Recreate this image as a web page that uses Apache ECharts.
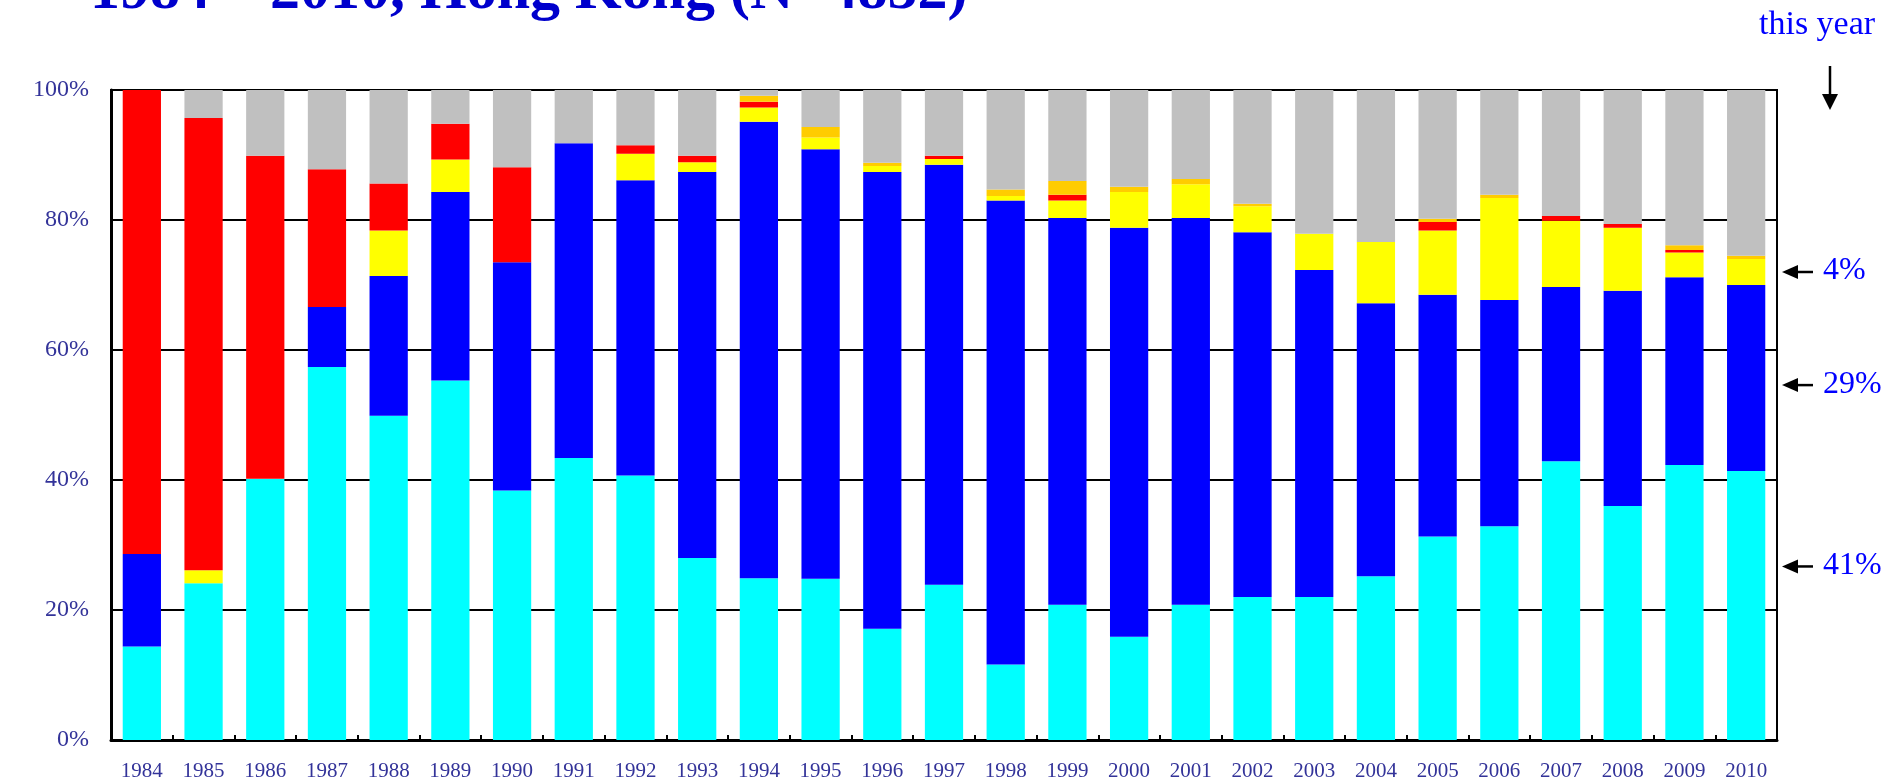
<!DOCTYPE html>
<html>
<head>
<meta charset="utf-8">
<script src="https://cdn.jsdelivr.net/npm/echarts@6/dist/echarts.min.js"></script>
<style>
  html, body { margin: 0; padding: 0; background: #fff; }
  #chart { width: 1889px; height: 782px; }
</style>
</head>
<body>
<div id="chart"></div>
<script>
// share of reported cases per year, percent (bottom to top of each bar)
const years = ['1984', '1985', '1986', '1987', '1988', '1989', '1990', '1991', '1992', '1993',
  '1994', '1995', '1996', '1997', '1998', '1999', '2000', '2001', '2002', '2003',
  '2004', '2005', '2006', '2007', '2008', '2009', '2010'];
const heterosexual = [14.4, 24.1, 40.2, 57.4, 49.9, 55.3, 38.4, 43.4, 40.7, 28.0,
  24.9, 24.8, 17.1, 23.9, 11.6, 20.8, 15.9, 20.8, 22.0, 22.0,
  25.2, 31.3, 32.9, 42.9, 36.0, 42.3, 41.4];
const homoBisexual = [14.2, 0, 0, 9.2, 21.5, 29.0, 35.1, 48.4, 45.4, 59.4,
  70.2, 66.1, 70.3, 64.6, 71.4, 59.5, 62.9, 59.5, 56.1, 50.3,
  42.0, 37.2, 34.8, 26.8, 33.1, 28.9, 28.6];
const drugUse = [0, 2.0, 0, 0, 7.0, 5.0, 0, 0, 4.1, 1.5,
  2.2, 1.8, 0.9, 0.9, 0.7, 2.7, 5.5, 5.2, 4.0, 5.6,
  9.4, 9.9, 15.7, 10.2, 9.7, 3.8, 4.0];
const bloodProducts = [71.4, 69.6, 49.7, 21.2, 7.2, 5.5, 14.6, 0, 1.3, 1.0,
  0.9, 0, 0, 0.5, 0, 0.9, 0, 0, 0, 0,
  0, 1.3, 0, 0.7, 0.6, 0.4, 0];
const perinatal = [0, 0, 0, 0, 0, 0, 0, 0, 0, 0,
  0.9, 1.6, 0.5, 0, 1.0, 2.1, 0.8, 0.8, 0.4, 0,
  0, 0.5, 0.5, 0, 0, 0.7, 0.5];
const undetermined = [0, 4.3, 10.1, 12.2, 14.4, 5.2, 11.9, 8.2, 8.5, 10.1,
  0.9, 5.7, 11.2, 10.1, 15.3, 14.0, 14.9, 13.7, 17.5, 22.1,
  23.4, 19.8, 16.1, 19.4, 20.6, 23.9, 25.5];

// callouts for the last year
const calloutLabels = ['4%', '29%', '41%'];
const calloutValues = [72.0, 54.6, 26.7];

const serif = '"Liberation Serif", "Times New Roman", serif';

const chart = echarts.init(document.getElementById('chart'), null, {renderer: 'canvas'});

function bar(name, data, color) {
  return {
    name: name,
    type: 'bar',
    stack: 'all',
    data: data,
    barWidth: '62%',
    itemStyle: {color: color},
    emphasis: {disabled: true}
  };
}

const option = {
  animation: false,
  backgroundColor: '#fff',
  grid: {
    left: 111, right: 112, top: 90, bottom: 41,
    show: true, borderColor: '#000', borderWidth: 2
  },
  xAxis: {
    type: 'category',
    data: years,
    axisLine: {lineStyle: {color: '#000', width: 3}},
    axisTick: {show: true, inside: true, length: 5, lineStyle: {color: '#000', width: 2}},
    axisLabel: {
      interval: 0, margin: 21, color: '#333399',
      fontFamily: serif, fontSize: 21
    }
  },
  yAxis: {
    type: 'value',
    min: 0, max: 100, interval: 20,
    axisLine: {show: true, lineStyle: {color: '#000', width: 3}},
    axisTick: {show: false},
    splitLine: {lineStyle: {color: '#000', width: 2}},
    axisLabel: {
      formatter: '{value}%', margin: 22, color: '#333399',
      fontFamily: serif, fontSize: 24
    }
  },
  series: [
    bar('Heterosexual', heterosexual, '#00ffff'),
    bar('Homosexual/Bisexual', homoBisexual, '#0000ff'),
    bar('Injecting drug use', drugUse, '#ffff00'),
    bar('Blood/blood products', bloodProducts, '#ff0000'),
    bar('Perinatal', perinatal, '#ffcc00'),
    bar('Undetermined', undetermined, '#c0c0c0')
  ]
};

chart.setOption(option);

// title (cut off at the top edge) and the right-hand callouts
const right = chart.getWidth() - 112;
const graphics = [
  {
    type: 'text', left: 90, top: -38,
    style: {
      text: '1984 \u2013 2010, Hong Kong (N=4852)', fill: '#0000cc',
      font: 'bold 60px ' + serif
    }
  },
  {
    type: 'text', left: 1759, top: 8,
    style: {text: 'this year', fill: '#0000ff', font: '34px ' + serif}
  },
  {
    type: 'line', shape: {x1: 1830, y1: 66, x2: 1830, y2: 96},
    style: {stroke: '#000', lineWidth: 2.5}
  },
  {
    type: 'polygon', shape: {points: [[1822, 94], [1838, 94], [1830, 110]]},
    style: {fill: '#000'}
  }
];
calloutValues.forEach(function (v, i) {
  const y = chart.convertToPixel({yAxisIndex: 0}, v);
  graphics.push(
    {
      type: 'line', shape: {x1: right + 18, y1: y, x2: right + 36, y2: y},
      style: {stroke: '#000', lineWidth: 2.5}
    },
    {
      type: 'polygon', shape: {points: [[right + 5, y], [right + 21, y - 7], [right + 21, y + 7]]},
      style: {fill: '#000'}
    },
    {
      type: 'text', left: right + 46, top: y - 17,
      style: {text: calloutLabels[i], fill: '#0000ff', font: '32px ' + serif}
    }
  );
});
chart.setOption({graphic: graphics});
</script>
</body>
</html>
